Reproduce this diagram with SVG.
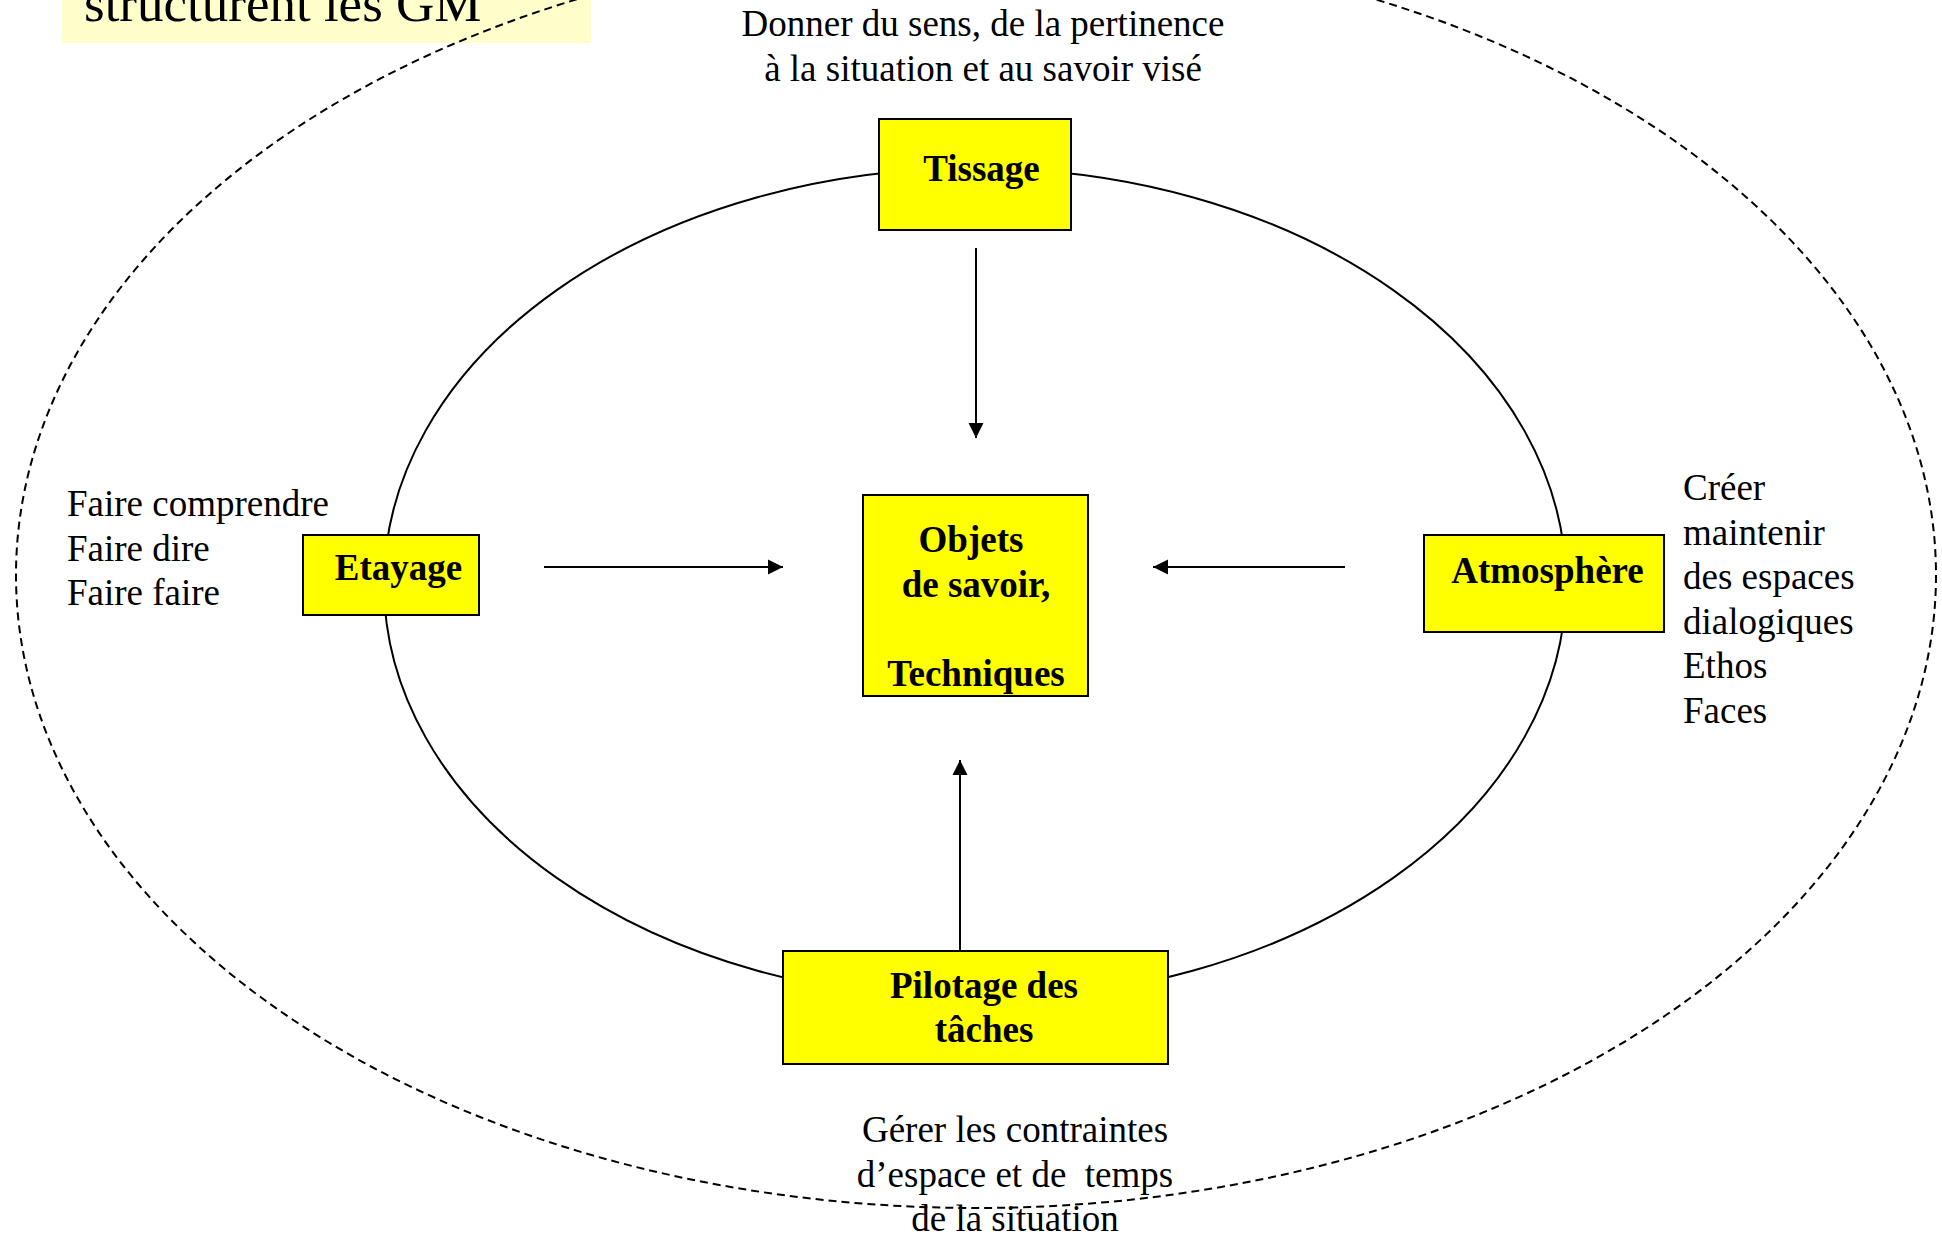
<svg xmlns="http://www.w3.org/2000/svg" width="1942" height="1237" viewBox="0 0 1942 1237">
<style>
.t{font-family:"Liberation Serif","Times New Roman",serif;font-size:37px;fill:#000}
.b{font-family:"Liberation Serif","Times New Roman",serif;font-size:37px;font-weight:bold;fill:#000;text-anchor:middle}
.box{fill:#FFFF00;stroke:#000;stroke-width:2}
.c{text-anchor:middle}
.ln{stroke:#000;stroke-width:2;fill:none}
</style>
<defs>
<marker id="ah" markerUnits="userSpaceOnUse" markerWidth="16" markerHeight="16" viewBox="0 0 16 16" refX="15" refY="8" orient="auto">
<path d="M0,0.5 L15,8 L0,15.5 Z" fill="#000"/>
</marker>
</defs>
<rect width="1942" height="1237" fill="#fff"/>
<g id="title">
<rect x="62" y="-10" width="529" height="53" fill="#FFFFCC"/>
<text class="t" x="84" y="21" style="font-size:53px">structurent les GM</text>
</g>
<g id="ellipses">
<ellipse cx="975" cy="584" rx="591" ry="416" class="ln"/>
<ellipse cx="976" cy="575" rx="960" ry="633" fill="none" stroke="#000" stroke-width="2" stroke-dasharray="8 5"/>
</g>
<g id="connectors">
<line x1="976" y1="248" x2="976" y2="438" class="ln" marker-end="url(#ah)"/>
<line x1="544" y1="567" x2="783" y2="567" class="ln" marker-end="url(#ah)"/>
<line x1="1345" y1="567" x2="1153" y2="567" class="ln" marker-end="url(#ah)"/>
<line x1="960" y1="951" x2="960" y2="760" class="ln" marker-end="url(#ah)"/>
</g>
<g id="tissage">
<rect x="879" y="119" width="192" height="111" class="box"/>
<text class="b" x="981.5" y="181">Tissage</text>
</g>
<g id="etayage">
<rect x="303" y="535" width="176" height="80" class="box"/>
<text class="b" x="398.5" y="580">Etayage</text>
</g>
<g id="atmosphere">
<rect x="1424" y="535" width="240" height="97" class="box"/>
<text class="b" x="1547.5" y="583">Atmosphère</text>
</g>
<g id="objets">
<rect x="863" y="495" width="225" height="201" class="box"/>
<text class="b" x="971" y="552">Objets</text>
<text class="b" x="976" y="597">de savoir,</text>
<text class="b" x="976" y="686">Techniques</text>
</g>
<g id="pilotage">
<rect x="783" y="951" width="385" height="113" class="box"/>
<text class="b" x="984" y="998">Pilotage des</text>
<text class="b" x="984" y="1042">tâches</text>
</g>
<g id="labels">
<text class="t c" x="983" y="36">Donner du sens, de la pertinence</text>
<text class="t c" x="983" y="80.5">à la situation et au savoir visé</text>
<text class="t" x="67" y="516">Faire comprendre</text>
<text class="t" x="67" y="561">Faire dire</text>
<text class="t" x="67" y="605">Faire faire</text>
<text class="t" x="1683" y="500">Créer</text>
<text class="t" x="1683" y="544.5">maintenir</text>
<text class="t" x="1683" y="589">des espaces</text>
<text class="t" x="1683" y="633.5">dialogiques</text>
<text class="t" x="1683" y="678">Ethos</text>
<text class="t" x="1683" y="722.5">Faces</text>
<text class="t c" x="1015" y="1142">Gérer les contraintes</text>
<text class="t c" x="1015" y="1186.5" xml:space="preserve">d’espace et de  temps</text>
<text class="t c" x="1015" y="1231">de la situation</text>
</g>
</svg>
